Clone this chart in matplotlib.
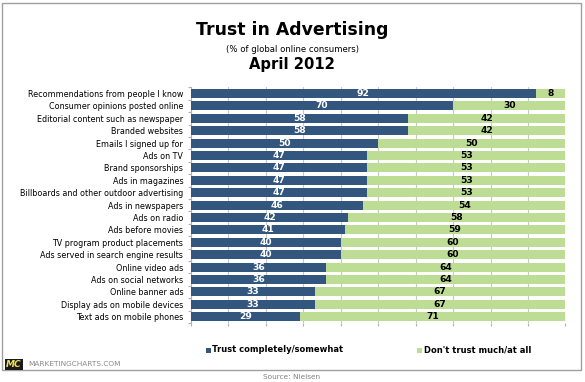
import matplotlib
matplotlib.use("Agg")
import matplotlib.pyplot as plt
from matplotlib.patches import Rectangle

categories = [
    "Recommendations from people I know",
    "Consumer opinions posted online",
    "Editorial content such as newspaper",
    "Branded websites",
    "Emails I signed up for",
    "Ads on TV",
    "Brand sponsorships",
    "Ads in magazines",
    "Billboards and other outdoor advertising",
    "Ads in newspapers",
    "Ads on radio",
    "Ads before movies",
    "TV program product placements",
    "Ads served in search engine results",
    "Online video ads",
    "Ads on social networks",
    "Online banner ads",
    "Display ads on mobile devices",
    "Text ads on mobile phones",
]
trust = [92, 70, 58, 58, 50, 47, 47, 47, 47, 46, 42, 41, 40, 40, 36, 36, 33, 33, 29]
distrust = [8, 30, 42, 42, 50, 53, 53, 53, 53, 54, 58, 59, 60, 60, 64, 64, 67, 67, 71]
series_names = ["Trust completely/somewhat", "Don't trust much/at all"]

DARK = "#33567f"
GREEN = "#bddd95"
W, H = 585, 382

plt.rcParams['font.family'] = ['DejaVu Sans']
fig = plt.figure(figsize=(W / 100, H / 100), dpi=100)

def fx(px):
    return px / W

def fy(py):
    return 1 - py / H

# outer frame
fig.patches.append(Rectangle((fx(2), fy(370)), fx(579), 367 / H, transform=fig.transFigure,
                             fill=False, edgecolor="#a0a0a0", linewidth=1.0))

ax = fig.add_axes([fx(191), fy(322.9), fx(374.5), (322.9 - 87.3) / H])
y = list(range(len(categories)))
ax.barh(y, trust, height=0.72, color=DARK, zorder=3)
ax.barh(y, distrust, left=trust, height=0.72, color=GREEN, zorder=3)
for i, (t, d) in enumerate(zip(trust, distrust)):
    ax.text(t / 2, i, str(t), ha="center", va="center", color="white",
            fontsize=6.6, fontweight="bold", zorder=4)
    ax.text(t + d / 2, i, str(d), ha="center", va="center", color="black",
            fontsize=6.6, fontweight="bold", zorder=4)

ax.set_xlim(0, 100)
ax.set_ylim(len(categories) - 0.5, -0.5)
ax.set_xticks(range(0, 101, 10))
ax.set_xticklabels([])
ax.tick_params(axis="x", length=2, color="#b0b0b0", width=0.8)
ax.set_yticks(y)
ax.set_yticklabels(categories, fontsize=5.75)
ax.set_yticks([i + 0.5 for i in range(-1, len(categories))], minor=True)
ax.tick_params(axis="y", which="major", length=0, pad=5.5)
ax.tick_params(axis="y", which="minor", length=2, color="#b0b0b0", width=0.8)
ax.grid(axis="x", color="#c8c8c8", linewidth=0.8, zorder=0)
for s in ["top", "right", "bottom"]:
    ax.spines[s].set_visible(False)
ax.spines["left"].set_color("#b0b0b0")
ax.spines["left"].set_linewidth(0.8)

# titles
fig.text(fx(292), fy(30), "Trust in Advertising", ha="center", va="center",
         fontsize=12.4, fontweight="bold")
fig.text(fx(293), fy(49), "(% of global online consumers)", ha="center", va="center",
         fontsize=6.1)
fig.text(fx(292), fy(65), "April 2012", ha="center", va="center",
         fontsize=10.6, fontweight="bold")

# legend
fig.patches.append(Rectangle((fx(206), fy(352.5)), fx(5), 5 / H, transform=fig.transFigure,
                             facecolor=DARK, edgecolor="none"))
fig.text(fx(212.5), fy(350), series_names[0], ha="left", va="center",
         fontsize=6.0, fontweight="bold")
fig.patches.append(Rectangle((fx(417), fy(352.5)), fx(5), 5 / H, transform=fig.transFigure,
                             facecolor=GREEN, edgecolor="none"))
fig.text(fx(423.5), fy(350), series_names[1], ha="left", va="center",
         fontsize=6.0, fontweight="bold")

# branding
fig.patches.append(Rectangle((fx(5), fy(370)), fx(18), 11 / H, transform=fig.transFigure,
                             facecolor="#1a1a1a", edgecolor="none"))
fig.text(fx(14), fy(364.5), "MC", ha="center", va="center", fontsize=6.5,
         fontweight="bold", color="#f2e35a", style="italic")
fig.text(fx(28), fy(364.5), "MARKETINGCHARTS.COM", ha="left", va="center",
         fontsize=5.3, color="#8a8a8a")
fig.text(fx(292), fy(377), "Source: Nielsen", ha="center", va="center",
         fontsize=5.3, color="#808080")

fig.savefig("out.png", dpi=100)
